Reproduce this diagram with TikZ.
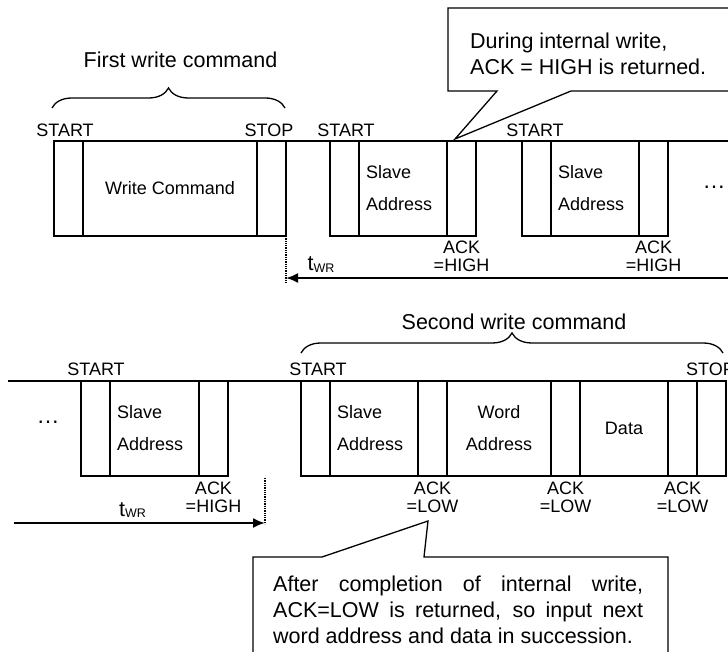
\documentclass[tikz,border=0pt]{standalone}
\usepackage{fontspec}
\setmainfont{Liberation Sans}
\usetikzlibrary{arrows.meta,positioning,calc,decorations.pathreplacing}

\newcommand{\bigtxt}{\fontsize{21.5}{26}\selectfont}
\newcommand{\boxtxt}{\fontsize{18}{32}\selectfont}
\newcommand{\lbltxt}{\fontsize{18}{17.5}\selectfont}
\newcommand{\twrtxt}{t\raisebox{-1.5pt}{\fontsize{12.5}{12}\selectfont WR}}

\tikzset{
  bitbox/.style={draw,line width=1.3pt,outer sep=0pt,inner sep=0pt,minimum width=29pt,minimum height=95pt},
  fieldbox/.style={bitbox,font=\boxtxt,align=center},
  slavebox/.style={fieldbox,align=left,inner xsep=7pt},
  bus/.style={line width=1.3pt},
  lbl/.style={inner sep=0pt,anchor=base,font=\lbltxt},
  acklbl/.style={inner sep=0pt,anchor=north,align=center,font=\lbltxt},
  cmdlbl/.style={inner sep=0pt,anchor=base,font=\bigtxt},
  moredots/.style={inner sep=0pt,font=\fontsize{23}{23}\selectfont},
  wrbrace/.style={decorate,decoration={brace,amplitude=20pt},line width=1.3pt},
  twr/.style={line width=2pt,-{Latex[length=12pt,width=10pt]}},
  twrmark/.style={line width=1.3pt,densely dotted},
  calloutbox/.style={draw,fill=white,line width=1.3pt},
  notetxt/.style={inner sep=0pt,anchor=north west,font=\bigtxt}
}

\begin{document}
\begin{tikzpicture}[x=1pt,y=-1pt]
\useasboundingbox (0,0) rectangle (728,652);
\clip (0,0) rectangle (728,652);

% first write command, then polling with ACK = HIGH
\node[bitbox,anchor=north west] (st1) at (54,141) {};
\node[fieldbox,right=0pt of st1,minimum width=174pt] (wcmd) {Write Command};
\node[bitbox,right=0pt of wcmd] (sp1) {};
\node[bitbox,anchor=north west] (st2) at (330,141) {};
\node[slavebox,right=0pt of st2,text width=74pt] (sa2) {Slave\\Address};
\node[bitbox,right=0pt of sa2] (ack2) {};
\node[bitbox,anchor=north west] (st3) at (522,141) {};
\node[slavebox,right=0pt of st3,text width=74pt] (sa3) {Slave\\Address};
\node[bitbox,right=0pt of sa3] (ack3) {};
\coordinate (bus1end) at (740,141);
\draw[bus] (sp1.north east) -- (st2.north west);
\draw[bus] (ack2.north east) -- (st3.north west);
\draw[bus] (ack3.north east) -- (bus1end);

\node[lbl] (start1) at (65,136.5) {START};
\node[lbl] (stop1) at (269,136.5) {STOP};
\node[lbl] (start2) at (346,136.5) {START};
\node[lbl] (start3) at (535,136.5) {START};
\node[acklbl] (ackl2) at ($(ack2.south)+(0,5)$) {ACK\\=HIGH};
\node[acklbl] (ackl3) at ($(ack3.south)+(0,5)$) {ACK\\=HIGH};
\node[moredots] (more1) at (714,187) {…};

\coordinate (br1a) at (52,108);
\coordinate (br1b) at (285,108);
\draw[wrbrace] (br1a) -- (br1b);
\node[cmdlbl] (cmd1) at (180.5,68) {First write command};

\coordinate (dot1) at (286,283);
\draw[twrmark] (sp1.south east) -- (dot1);
\coordinate (wr1) at (740,278);
\draw[twr] (wr1) -- (wr1 -| dot1);
\node[cmdlbl] (twr1) at (321,271) {\twrtxt};

\draw[calloutbox] (448,8) -- (740,8) -- (740,91) -- (571,91) -- (455,139) -- (497,91) -- (448,91) -- cycle;
\node[notetxt,align=left] (note1) at (470,33) {During internal write,\\ACK = HIGH is returned.};

% last polling, then second write command with ACK = LOW
\coordinate (bus2start) at (8,381);
\node[bitbox,anchor=north west] (st4) at (81,381) {};
\node[slavebox,right=0pt of st4,text width=75pt] (sa4) {Slave\\Address};
\node[bitbox,right=0pt of sa4] (ack4) {};
\node[bitbox,anchor=north west] (st5) at (301,381) {};
\node[slavebox,right=0pt of st5,text width=74pt] (sa5) {Slave\\Address};
\node[bitbox,right=0pt of sa5] (ack5) {};
\node[fieldbox,right=0pt of ack5,minimum width=104pt] (wadr) {Word\\Address};
\node[bitbox,right=0pt of wadr] (ack6) {};
\node[fieldbox,right=0pt of ack6,minimum width=88pt] (data) {Data};
\node[bitbox,right=0pt of data] (ack7) {};
\node[bitbox,right=0pt of ack7] (sp2) {};
\draw[bus] (bus2start) -- (st4.north west);
\draw[bus] (ack4.north east) -- (st5.north west);

\node[lbl] (start4) at (96,375) {START};
\node[lbl] (start5) at (318,375) {START};
\node[lbl,anchor=base west] (stop2) at (686,375) {STOP};
\node[acklbl] (ackl4) at ($(ack4.south)+(0,6)$) {ACK\\=HIGH};
\node[acklbl] (ackl5) at ($(ack5.south)+(0,6)$) {ACK\\=LOW};
\node[acklbl] (ackl6) at ($(ack6.south)+(0,6)$) {ACK\\=LOW};
\node[acklbl] (ackl7) at ($(ack7.south)+(0,6)$) {ACK\\=LOW};
\node[moredots] (more2) at (48,422) {…};

\coordinate (br2a) at (301,353);
\coordinate (br2b) at (723,353);
\draw[wrbrace] (br2a) -- (br2b);
\node[cmdlbl] (cmd2) at (514,330) {Second write command};

\coordinate (dot2a) at (265,478);
\coordinate (dot2b) at (265,524);
\draw[twrmark] (dot2a) -- (dot2b);
\coordinate (wr2) at (14,523);
\draw[twr] (wr2) -- (wr2 -| dot2a);
\node[cmdlbl] (twr2) at (132.5,516) {\twrtxt};

\draw[calloutbox] (253,557) -- (322,557) -- (428,521) -- (424,557) -- (668,557) -- (668,665) -- (253,665) -- cycle;
\node[notetxt,text width=370pt,align=justify] (note2) at (273,576) {After completion of internal write, ACK=LOW is returned, so input next word address and data in succession.};
\end{tikzpicture}
\end{document}
